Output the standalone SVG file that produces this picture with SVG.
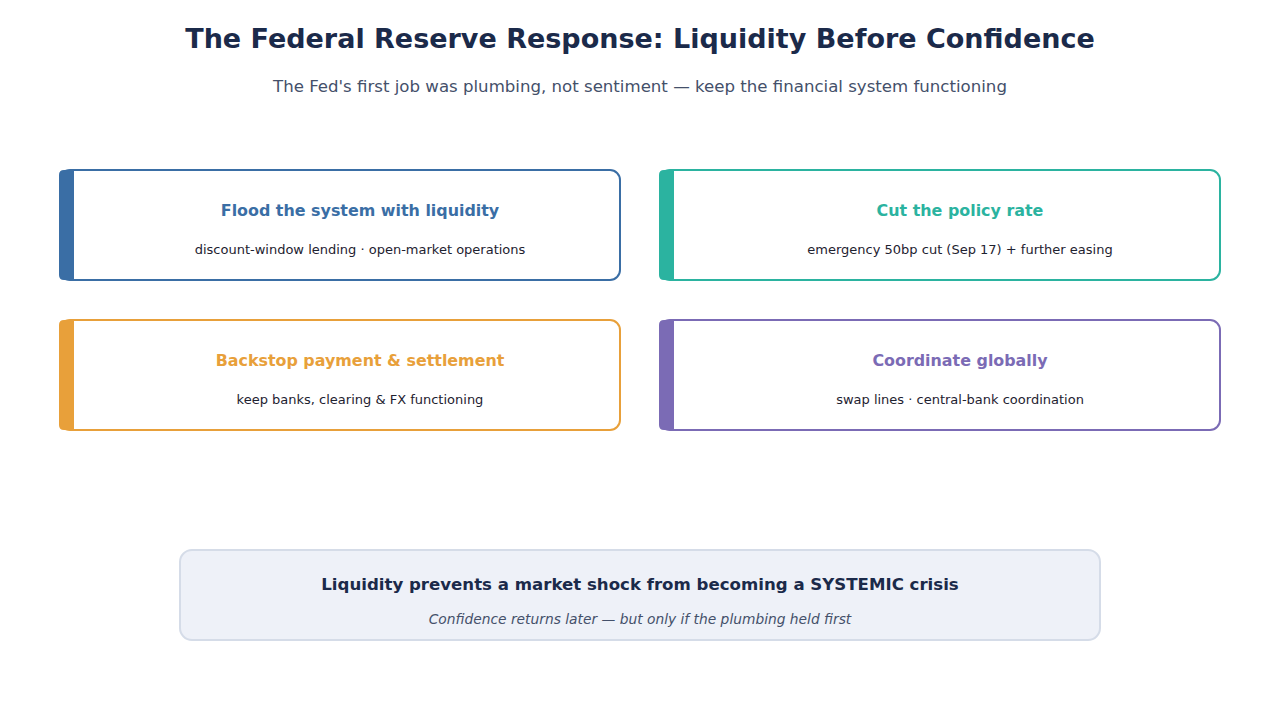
<svg xmlns="http://www.w3.org/2000/svg" width="1280" height="720" viewBox="0 0 1280 720">
<style>
.title{font-family:"DejaVu Sans",sans-serif;font-weight:bold;font-size:27px;fill:#1B2A4A;text-anchor:middle}
.sub{font-family:"DejaVu Sans",sans-serif;font-size:16.6px;fill:#44506A;text-anchor:middle}
.card{fill:#FFFFFF;stroke-width:2}
.ct{font-family:"DejaVu Sans",sans-serif;font-weight:bold;font-size:15.9px;text-anchor:middle}
.cs{font-family:"DejaVu Sans",sans-serif;font-size:13px;fill:#1E2230;text-anchor:middle}
.bt{font-family:"DejaVu Sans",sans-serif;font-weight:bold;font-size:16.6px;fill:#1B2A4A;text-anchor:middle}
.bs{font-family:"DejaVu Sans",sans-serif;font-style:italic;font-size:13.8px;fill:#44506A;text-anchor:middle}
</style>
<rect width="1280" height="720" fill="#FFFFFF"/>
<text class="title" x="640" y="48">The Federal Reserve Response: Liquidity Before Confidence</text>
<text class="sub" x="640" y="92">The Fed's first job was plumbing, not sentiment — keep the financial system functioning</text>

<g id="node-liquidity">
<rect class="card" x="60" y="170" width="560" height="110" rx="10" stroke="#3A6EA5"/>
<path d="M64,170 H74 V280 H64 Q59,280 59,275 V175 Q59,170 64,170 Z" fill="#3A6EA5"/>
<text class="ct" x="360" y="216" fill="#3A6EA5">Flood the system with liquidity</text>
<text class="cs" x="360" y="254">discount-window lending · open-market operations</text>
</g>
<g id="node-rate">
<rect class="card" x="660" y="170" width="560" height="110" rx="10" stroke="#2BB3A0"/>
<path d="M664,170 H674 V280 H664 Q659,280 659,275 V175 Q659,170 664,170 Z" fill="#2BB3A0"/>
<text class="ct" x="960" y="216" fill="#2BB3A0">Cut the policy rate</text>
<text class="cs" x="960" y="254">emergency 50bp cut (Sep 17) + further easing</text>
</g>
<g id="node-backstop">
<rect class="card" x="60" y="320" width="560" height="110" rx="10" stroke="#E8A03A"/>
<path d="M64,320 H74 V430 H64 Q59,430 59,425 V325 Q59,320 64,320 Z" fill="#E8A03A"/>
<text class="ct" x="360" y="366" fill="#E8A03A">Backstop payment &amp; settlement</text>
<text class="cs" x="360" y="404">keep banks, clearing &amp; FX functioning</text>
</g>
<g id="node-global">
<rect class="card" x="660" y="320" width="560" height="110" rx="10" stroke="#7B6BB5"/>
<path d="M664,320 H674 V430 H664 Q659,430 659,425 V325 Q659,320 664,320 Z" fill="#7B6BB5"/>
<text class="ct" x="960" y="366" fill="#7B6BB5">Coordinate globally</text>
<text class="cs" x="960" y="404">swap lines · central-bank coordination</text>
</g>
<g id="connectors"></g>
<g id="node-conclusion">
<rect x="180" y="550" width="920" height="90" rx="12" fill="#EEF1F8" stroke="#D5DCE8" stroke-width="2"/>
<text class="bt" x="640" y="590">Liquidity prevents a market shock from becoming a SYSTEMIC crisis</text>
<text class="bs" x="640" y="624">Confidence returns later — but only if the plumbing held first</text>
</g>
</svg>
